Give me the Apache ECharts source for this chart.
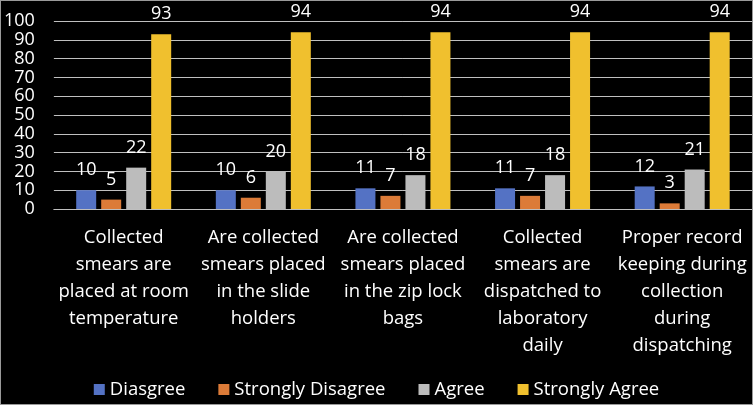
<!DOCTYPE html>
<html>
<head>
<meta charset="utf-8" />
<title>Chart</title>
<script src="https://cdn.jsdelivr.net/npm/echarts@6/dist/echarts.min.js"></script>
<style>
  html, body { margin: 0; padding: 0; background: #000; }
  #main { width: 751px; height: 403px; border: 1px solid #9a9a9a; }
</style>
</head>
<body>
<div id="main"></div>
<script>
// categories (x axis)
var categories = [
  'Collected\nsmears are\nplaced at room\ntemperature',
  'Are collected\nsmears placed\nin the slide\nholders',
  'Are collected\nsmears placed\nin the zip lock\nbags',
  'Collected\nsmears are\ndispatched to\nlaboratory\ndaily',
  'Proper record\nkeeping during\ncollection\nduring\ndispatching'
];
// series values
var diasgree = [10, 10, 11, 11, 12];
var stronglyDisagree = [5, 6, 7, 7, 3];
var agree = [22, 20, 18, 18, 21];
var stronglyAgree = [93, 94, 94, 94, 94];

var font = '"Open Sans", sans-serif';

function makeSeries(name, data, color) {
  return {
    name: name,
    type: 'bar',
    data: data,
    barWidth: 20,
    barGap: '25%',
    itemStyle: { color: color },
    label: {
      show: true,
      position: 'top',
      distance: 11,
      color: '#fff',
      fontSize: 18,
      fontFamily: font
    }
  };
}

var myChart = echarts.init(document.getElementById('main'));
myChart.setOption({
  backgroundColor: '#000',
  animation: false,
  textStyle: { fontFamily: font },
  grid: { left: 52, right: 0, top: 20, bottom: 195 },
  legend: {
    bottom: 0,
    left: 'center',
    itemWidth: 11,
    itemHeight: 11,
    itemGap: 33,
    icon: 'rect',
    textStyle: { color: '#fff', fontSize: 18.5, fontFamily: font },
    data: ['Diasgree', 'Strongly Disagree', 'Agree', 'Strongly Agree']
  },
  xAxis: {
    type: 'category',
    data: categories,
    axisLine: { lineStyle: { color: '#bfbfbf', width: 1 } },
    axisTick: { show: false },
    axisLabel: {
      color: '#fff',
      fontSize: 18.5,
      lineHeight: 27,
      margin: 15,
      interval: 0,
      fontFamily: font
    }
  },
  yAxis: {
    type: 'value',
    min: 0,
    max: 100,
    interval: 10,
    axisLine: { show: false },
    axisTick: { show: false },
    splitLine: { lineStyle: { color: '#bfbfbf', width: 1 } },
    axisLabel: {
      color: '#fff',
      fontSize: 18,
      margin: 19,
      showMinLabel: true,
      showMaxLabel: true,
      fontFamily: font
    }
  },
  series: [
    makeSeries('Diasgree', diasgree, '#5472c4'),
    makeSeries('Strongly Disagree', stronglyDisagree, '#dc7b38'),
    makeSeries('Agree', agree, '#bcbcbc'),
    makeSeries('Strongly Agree', stronglyAgree, '#f0c02e')
  ]
});
</script>
</body>
</html>
